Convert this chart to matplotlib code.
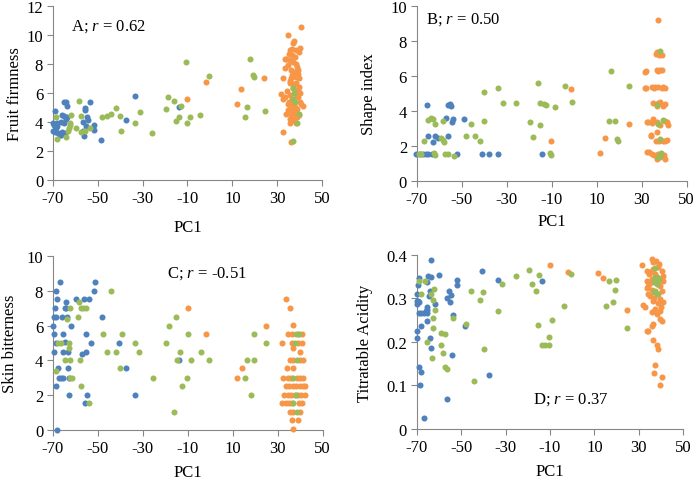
import matplotlib
matplotlib.use("Agg")
import matplotlib.pyplot as plt
from matplotlib.ticker import FuncFormatter

plt.rcParams['font.family'] = 'Liberation Serif'
plt.rcParams['font.size'] = 12
plt.rcParams['axes.unicode_minus'] = False
plt.rcParams['mathtext.fontset'] = 'custom'
plt.rcParams['mathtext.rm'] = 'Liberation Serif'
plt.rcParams['mathtext.it'] = 'Liberation Serif:italic'

blue = '#4F81BD'
green = '#9BBB59'
orange = '#F79646'
grey = '#868686'

# ---- panel A: fruit firmness
a_blue_x = [-69, -69.5, -69.3, -68.5, -68.2, -67.8, -67, -65.8, -65.8, -65.2, -64, -63.6, -65, -64, -65.2,
            -63.6, -66.4, -64.6, -56.6, -56.3, -55.9, -55.5, -54.8, -54.4, -55.2, -53.7, -51.9, -51.9, -56.6,
            -48.6, -37.6, -33.6, -14, -70, -69.8, -68, -66.5]
a_blue_y = [4.76, 3.8, 3.3, 3.6, 3.95, 3.2, 3.1, 3.3, 4.45, 5.4, 5.4, 5.1, 4.4, 4.2, 3.95,
            4.3, 3.1, 3.2, 3.4, 3.0, 4.8, 4.95, 4.35, 4.1, 3.7, 5.4, 3.75, 3.45, 4.0,
            2.78, 4.15, 5.8, 5.0, 3.4, 3.9, 3.7, 4.0]
a_green_x = [-68.8, -68, -64, -63.3, -62.6, -62.6, -61.8, -62.9, -58.4, -57.7, -57.4, -55.9, -53.4, -59.6, -48,
             -45.9, -44.2, -41.7, -39.9, -39.5, -31.4, -33.5, -25.9, -19.5, -18.5, -16.2, -15, -13.6, -12.8, -10.6,
             -10.3, -8.8, -4.2, -0.6, 15.7, 16.4, 18.1, 19.4, 19.5, 24.7, 37.2, 37.4, 36.9, 38.1, 39.6, 38.8, 37]
a_green_y = [4.35, 2.8, 2.95, 3.4, 3.8, 3.95, 4.5, 3.55, 5.45, 4.4, 3.3, 3.35, 3.55, 3.6, 4.3,
             4.4, 4.55, 4.95, 4.4, 3.4, 4.65, 3.9, 3.25, 4.9, 5.7, 5.45, 4.05, 4.3, 5.1, 8.1,
             3.95, 4.35, 4.45, 7.15, 4.3, 5.0, 8.35, 7.2, 7.1, 4.75, 6.3, 6.0, 5.6, 5.4, 4.55, 3.95, 2.7]
a_orange_x = [-10.3, -1.7, 12, 13.8, 24.1, 40.7, 35.0, 37, 37.7, 35.9, 38.4, 39.9, 40.4, 34, 35.5,
              37, 38.5, 33.7, 36.2, 37.7, 39.2, 32.5, 36.2, 39.9, 35.5, 38.5, 37, 39.6, 31.8, 32.5,
              35.5, 39.2, 34.7, 37, 40.7, 41.4, 35.5, 34, 36.2, 38.5, 39.9, 35.5, 37.7, 32.5, 36.2,
              36.5, 38, 35, 38.7, 36.8, 38.2, 35.8, 37.5, 39.3, 34.5, 36.4, 38.2, 40, 35.2, 37.8,
              36.8, 39, 34.8, 37.2, 38.8, 36.5, 35.8, 38.2, 40.3, 33.5, 39.5, 33.5, 36.7, 35.3, 37.3]
a_orange_y = [5.6, 6.75, 5.2, 6.25, 7.05, 10.55, 10.0, 9.4, 9.6, 8.95, 8.95, 8.8, 9.1, 8.35, 8.25,
              8.1, 8.0, 7.7, 7.55, 7.45, 7.3, 7.0, 7.0, 7.0, 6.65, 6.65, 6.3, 6.4, 5.9, 5.6,
              5.85, 5.7, 5.25, 5.15, 5.2, 5.1, 4.9, 4.55, 4.45, 4.55, 4.45, 4.2, 4.2, 3.3, 2.6,
              8.6, 8.5, 7.9, 7.8, 7.2, 7.1, 6.8, 6.6, 6.2, 6.1, 5.6, 5.9, 5.4, 5.4, 5.0,
              4.8, 4.9, 4.8, 4.6, 4.3, 4.1, 3.9, 3.9, 6.0, 5.7, 7.6, 8.3, 9.0, 8.7, 5.4]

# ---- panel B: shape index
b_blue_x = [-70.3, -68.8, -67.3, -65.8, -64.8, -63.3, -65.6, -65.1, -62.9, -61.8, -60.4, -57, -56.2, -56.2,
            -55.2, -54.6, -54.3, -53.8, -52.1, -48.8, -40.8, -37.7, -33.7, -14.2]
b_blue_y = [1.53, 1.53, 1.53, 1.53, 1.53, 1.53, 4.34, 2.58, 2.2, 2.54, 2.43, 3.58, 2.58, 4.34,
            4.4, 4.3, 3.38, 3.54, 1.53, 3.54, 1.53, 1.53, 1.53, 1.53]
b_green_x = [-69.1, -68.3, -66.6, -65.1, -63.6, -62.9, -62.1, -62.4, -61.8, -59.2, -58.5, -58.1, -58.5,
             -57.4, -56.2, -53.5, -48, -45.8, -44.3, -41.7, -40.2, -39.9, -33.7, -31.7, -25.8, -19.6,
             -18.4, -16.2, -15.1, -15.4, -13.5, -12.5, -10.8, -10.5, -8.7, -4, -1, 16.5, 15.4, 18,
             19.1, 19.4, 24.6, 38, 36.8, 37.2, 38, 39.4, 38, 38.7, 37.2]
b_green_y = [1.53, 1.53, 2.3, 3.5, 3.58, 3.54, 3.25, 1.57, 1.5, 2.43, 2.35, 2.24, 3.44,
             1.53, 1.53, 1.43, 2.58, 3.25, 2.54, 2.3, 3.4, 5.1, 5.3, 4.44, 4.44, 3.35,
             2.49, 5.6, 3.21, 4.44, 4.36, 4.34, 1.57, 1.5, 4.2, 5.41, 4.49, 6.3, 3.4, 3.4,
             2.39, 2.29, 5.41, 7.4, 4.34, 3.25, 2.39, 3.48, 1.43, 1.59, 1.34]
b_orange_x = [-1.6, -10.4, 11.7, 13.8, 24.2, 31.7, 31.7, 32.5, 33.2, 34.3, 37.4, 36.9, 39.0, 36.5, 37.8,
              31.9, 36.9, 38.1, 39.1, 37.5, 31.9, 34.5, 36.0, 37.4, 38.9, 40.6, 35.5, 39.5, 35.2, 36.7,
              38.1, 39.6, 37.3, 40.5, 32.7, 35.2, 36.7, 38.1, 41.1, 41.8, 34.8, 40.2, 34.1, 36.7, 36.4,
              39.6, 41.4, 37.8, 40.3, 32.2, 34.5, 36.7, 38.9, 35.7, 40.0, 36.7, 40.6, 38.4, 37.5]
b_orange_y = [5.22, 2.29, 1.59, 2.43, 3.25, 6.21, 5.3, 3.35, 1.63, 2.58, 9.18, 7.37, 7.17, 7.25, 7.2,
              6.25, 6.31, 6.33, 6.31, 6.28, 5.3, 5.36, 5.36, 5.36, 5.32, 5.32, 5.28, 5.35, 4.46, 4.3,
              4.49, 4.3, 4.42, 4.38, 3.35, 3.54, 3.35, 3.2, 3.35, 3.16, 3.3, 3.4, 2.62, 2.78, 2.28,
              2.28, 2.33, 2.25, 2.3, 1.66, 1.53, 1.47, 1.47, 1.5, 1.5, 1.27, 1.27, 1.35, 1.55]

# ---- panel C: skin bitterness
c_blue_x = [-69.6, -69.6, -69.6, -68.8, -69, -68.5, -68.2, -68.5, -68.1, -67.8, -67, -68.8, -66.6, -65.5,
            -65.5, -65.5, -65.8, -64.8, -64.8, -64.4, -64.1, -63.6, -63.3, -63.3, -63, -63, -61.8, -59.9,
            -56.9, -56.2, -55.9, -55.4, -55.1, -54.8, -53.9, -53.3, -51.7, -51.4, -48.1, -40.6, -37.6,
            -33.3, -14, -69.8, -67.5]
c_blue_y = [4.5, 5.5, 6.5, 6.5, 7.0, 8.0, 7.5, 2.54, 0.0, 3.54, 8.5, 5.0, 3.0, 3.0,
            4.5, 5.5, 6.5, 5.05, 7.0, 7.35, 7.0, 6.5, 4.5, 3.54, 2.03, 3.0, 6.0, 7.5,
            4.36, 7.5, 1.53, 4.5, 5.5, 2.03, 7.5, 5.0, 8.0, 8.5, 6.5, 5.0, 3.54,
            2.03, 4.0, 6.0, 3.0]
c_green_x = [-68.5, -67.8, -66.3, -64.8, -63.6, -62.9, -62.9, -62.3, -62.6, -62.6, -61.5, -58.7, -58.4,
             -58.1, -57.4, -56.6, -55.5, -57.4, -53.8, -47.7, -44.3, -45.8, -41.8, -40, -39.3, -33.3,
             -31.7, -25.7, -19.5, -18.3, -15.3, -16, -15, -13.6, -12.8, -10.3, -10.1, -8.7, -4.2, -0.6,
             15.4, 16.4, 18.1, 19.6, 19.6, 24.8, 38, 37.7, 38.5, 37, 38.1, 37, 38.5, 39.5]
c_green_y = [3.37, 5.0, 5.0, 4.03, 6.37, 5.0, 4.7, 7.0, 4.03, 3.0, 3.0, 6.5, 7.35,
             4.03, 7.0, 7.0, 7.0, 2.54, 1.53, 5.5, 8.0, 4.5, 4.5, 3.54, 5.5, 5.0,
             4.5, 3.0, 5.0, 6.0, 6.5, 1.05, 4.03, 4.5, 2.54, 3.0, 5.5, 4.03, 4.5, 4.03,
             3.0, 4.03, 2.03, 4.03, 5.5, 5.0, 5.5, 5.0, 4.03, 3.0, 2.03, 1.53, 1.05, 5.5]
c_orange_x = [-9.9, -1.7, 12, 13.9, 24.6, 31.7, 33.7, 35.5, 36.7, 34.7, 36.2, 39.2, 40.8, 36.2, 39.2,
              40.8, 36.7, 39.9, 35.5, 37.0, 40.0, 41.4, 34.0, 37.0, 32.5, 34.5, 36.0, 38.5, 40.0, 41.4,
              33.7, 35.2, 36.7, 38.2, 39.7, 41.2, 42.0, 33.0, 34.5, 36.0, 37.5, 39.0, 40.5, 42.0, 32.0,
              33.5, 35.0, 36.5, 39.5, 41.0, 35.5, 37.0, 40.0, 36.2, 39.2, 36.7]
c_orange_y = [7.0, 5.5, 3.0, 3.54, 6.0, 5.0, 7.5, 7.0, 6.02, 5.5, 5.5, 5.5, 5.5, 5.0, 5.0,
              5.0, 4.68, 4.5, 4.03, 4.03, 4.03, 4.03, 3.54, 3.54, 3.0, 3.0, 3.0, 3.0, 3.0, 3.0,
              2.54, 2.54, 2.54, 2.54, 2.54, 2.54, 2.54, 2.03, 2.03, 2.03, 2.03, 2.03, 2.03, 2.03, 1.53,
              1.53, 1.53, 1.53, 1.53, 1.53, 1.05, 1.05, 1.05, 0.55, 0.55, 0.03]

# ---- panel D: titratable acidity
d_blue_x = [-69, -69.4, -69.8, -69.4, -69, -69.7, -69.8, -69.7, -69, -67.9, -66.8, -65.6, -69, -68.2,
            -68.6, -68.2, -66.8, -65.6, -65.3, -65.5, -64.9, -63.7, -65.6, -64.1, -64.4, -63.7, -64.1,
            -63.7, -61.9, -60.1, -56.5, -55.6, -55.1, -54.7, -53.5, -54.1, -56.6, -51.7, -51.7, -48.3,
            -40.8, -37.5, -33.3, -13.8, -70, -66]
d_blue_y = [0.347, 0.33, 0.31, 0.295, 0.291, 0.287, 0.226, 0.208, 0.267, 0.267, 0.267, 0.267, 0.142, 0.132,
            0.102, 0.236, 0.026, 0.274, 0.28, 0.249, 0.352, 0.35, 0.337, 0.318, 0.306, 0.388, 0.209,
            0.186, 0.287, 0.354, 0.3, 0.318, 0.291, 0.309, 0.262, 0.171, 0.069, 0.33, 0.342, 0.236,
            0.363, 0.123, 0.342, 0.34, 0.295, 0.27]
d_green_x = [-69, -67.9, -66.1, -65.2, -63.7, -62.9, -62.2, -61.9, -62.5, -62.6, -63.1, -58.9, -58.4,
             -57.4, -59.2, -57.4, -56.2, -53.5, -47.9, -45.6, -44.3, -41.6, -40.1, -39.8, -33.3, -31.8,
             -25.5, -19.5, -18.3, -16.3, -15, -15.3, -13.8, -12.3, -10.5, -10.2, -8.9, -3.8, -0.5, 15.1,
             16.6, 18.5, 19.2, 19.7, 24.7, 37.2, 37.5, 38.5, 37.0, 38.3, 37.2, 38.5, 36.8, 39.2]
d_green_y = [0.339, 0.31, 0.339, 0.201, 0.31, 0.297, 0.321, 0.274, 0.255, 0.231, 0.164, 0.221, 0.175,
             0.218, 0.194, 0.142, 0.139, 0.256, 0.241, 0.318, 0.11, 0.297, 0.314, 0.184, 0.272, 0.334,
             0.351, 0.366, 0.333, 0.316, 0.354, 0.239, 0.193, 0.192, 0.193, 0.211, 0.25, 0.283, 0.355, 0.283,
             0.341, 0.292, 0.319, 0.342, 0.232, 0.369, 0.35, 0.348, 0.337, 0.333, 0.318, 0.31, 0.314, 0.345]
d_orange_x = [-10, -1.7, 11.8, 14.1, 24.6, 31.7, 32.1, 32.9, 34.4, 35.9, 36.6, 37.4, 37.1, 38.1, 38.8,
              39.6, 40.4, 39.6, 40.4, 35.9, 33.6, 35.1, 36.6, 38.8, 40.4, 41.1, 38.1, 35.9, 33.6, 34.3,
              39.6, 33.6, 40.4, 38.1, 35.1, 39.6, 36.6, 41.1, 37.4, 39.6, 35.9, 38.1, 33.9, 36.6, 36.6,
              37.5, 39.5, 34.5, 36, 37, 38.5, 40, 34, 41, 39, 35, 37.8, 38.5]
d_orange_y = [0.377, 0.36, 0.358, 0.348, 0.274, 0.377, 0.286, 0.28, 0.225, 0.236, 0.205, 0.146, 0.129, 0.192, 0.184,
              0.102, 0.119, 0.253, 0.249, 0.391, 0.364, 0.36, 0.368, 0.372, 0.364, 0.352, 0.349, 0.345, 0.341, 0.329,
              0.329, 0.323, 0.318, 0.31, 0.306, 0.299, 0.295, 0.291, 0.276, 0.272, 0.268, 0.264, 0.226, 0.241, 0.383,
              0.355, 0.345, 0.355, 0.32, 0.3, 0.29, 0.28, 0.31, 0.34, 0.38, 0.335, 0.385, 0.333]

x_ticks = [-70, -50, -30, -10, 10, 30, 50]

fig = plt.figure(figsize=(6.97, 4.81), dpi=100)

panels = [
    # rect, series, ylim, yticks, ylabel, label text, label pos, ylabel pad, xlabel pad
    ([0.076, 0.624, 0.386, 0.362],
     (a_blue_x, a_blue_y, a_green_x, a_green_y, a_orange_x, a_orange_y),
     12, [0, 2, 4, 6, 8, 10, 12], 'Fruit firmness', 'A; $r$ = 0.62', (-62, 10.6), 2.5, 9.5),
    ([0.598, 0.622, 0.387, 0.364],
     (b_blue_x, b_blue_y, b_green_x, b_green_y, b_orange_x, b_orange_y),
     10, [0, 2, 4, 6, 8, 10], 'Shape index', 'B; $r$ = 0.50', (-66, 9.24), 10, 5),
    ([0.076, 0.104, 0.387, 0.362],
     (c_blue_x, c_blue_y, c_green_x, c_green_y, c_orange_x, c_orange_y),
     10, [0, 2, 4, 6, 8, 10], 'Skin bitterness', 'C; $r$ = -0.51', (-19.3, 9.06), 6, 6),
    ([0.598, 0.106, 0.382, 0.362],
     (d_blue_x, d_blue_y, d_green_x, d_green_y, d_orange_x, d_orange_y),
     0.4, [0, 0.1, 0.2, 0.3, 0.4], 'Titratable Acidity', 'D; $r$ = 0.37', (-17.7, 0.069), 9.5, 6),
]

for rect, series, ymax, yticks, ylabel, label, pos, ypad, xpad in panels:
    ax = fig.add_axes(rect)
    bx, by, gx, gy, ox, oy = series
    ax.scatter(bx, by, s=19, color=blue, linewidths=0, clip_on=False, zorder=3)
    ax.scatter(ox, oy, s=19, color=orange, linewidths=0, clip_on=False, zorder=3)
    ax.scatter(gx, gy, s=19, color=green, linewidths=0, clip_on=False, zorder=4)
    ax.set_xlim(-70, 50)
    ax.set_ylim(0, ymax)
    ax.set_xticks(x_ticks)
    ax.set_yticks(yticks)
    ax.yaxis.set_major_formatter(FuncFormatter(lambda v, p: '%g' % v))
    for s in ['top', 'right']:
        ax.spines[s].set_visible(False)
    for s in ['left', 'bottom']:
        ax.spines[s].set_color(grey)
        ax.spines[s].set_linewidth(0.8)
    ax.tick_params(direction='out', length=4, width=0.8, color=grey, labelsize=12, pad=3)
    ax.set_xlabel('PC1', fontsize=12, labelpad=xpad)
    ax.set_ylabel(ylabel, fontsize=12, labelpad=ypad)
    ax.text(pos[0], pos[1], label, fontsize=12, va='center', ha='left')

fig.savefig('out.png', dpi=100)
